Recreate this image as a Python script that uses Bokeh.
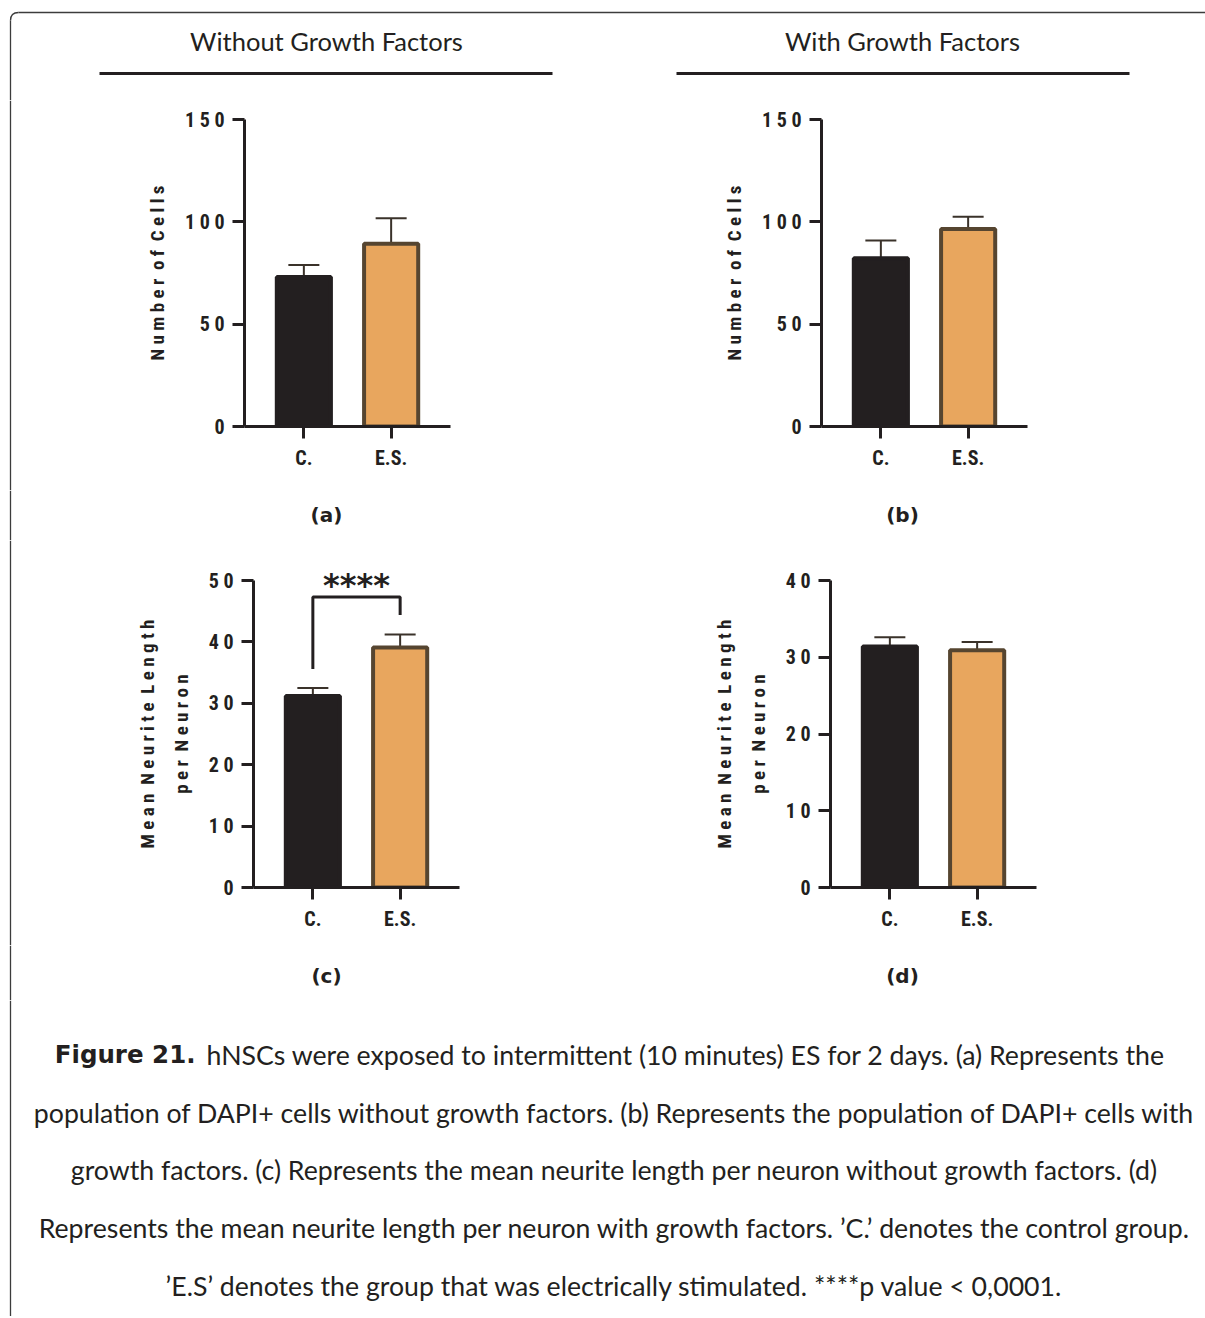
from bokeh.plotting import figure
from bokeh.models import (Range1d, FactorRange, FixedTicker, ColumnDataSource,
                          Whisker, TeeHead)
from bokeh.layouts import column, row
from bokeh.embed import file_html
from bokeh.resources import INLINE
from bokeh.core.properties import value

# ---------------- data ----------------
groups = ["C.", "E.S."]

cells_without = [73.0, 89.3]
cells_without_err = [5.9, 12.5]
cells_with = [82.2, 96.5]
cells_with_err = [8.7, 6.0]
neurite_without = [31.2, 39.1]
neurite_without_err = [1.3, 2.1]
neurite_with = [31.4, 30.9]
neurite_with_err = [1.2, 1.1]

cells_ticks = [0, 50, 100, 150]
neurite_without_ticks = [0, 10, 20, 30, 40, 50]
neurite_with_ticks = [0, 10, 20, 30, 40]

NB = "\u00a0"
cells_label = f"N u m b e r{NB} o f{NB} C e l l s"
neurite_label = (f"M e a n{NB} N e u r i t e{NB} L e n g t h\n"
                 f"p e r{NB} N e u r o n")

section_titles = ["Without Growth Factors", "With Growth Factors"]
panel_letters = ["(a)", "(b)", "(c)", "(d)"]
significance = "****"
bracket_levels = [35.6, 47.3, 47.3, 44.4]

caption_bold = "Figure 21."
caption_first = "hNSCs were exposed to intermittent (10 minutes) ES for 2 days. (a) Represents the"
caption_lines = [
    "population of DAPI+ cells without growth factors. (b) Represents the population of DAPI+ cells with",
    "growth factors. (c) Represents the mean neurite length per neuron without growth factors. (d)",
    "Represents the mean neurite length per neuron with growth factors. \u2019C.\u2019 denotes the control group.",
    "\u2019E.S\u2019 denotes the group that was electrically stimulated. ****p value < 0,0001.",
]

# ---------------- style ----------------
INK = "#231f20"
ORANGE = "#e8a65e"
BROWN = "#564530"
BORDER = "#3c3c3c"
NARROW = "Roboto Condensed, DejaVu Sans Condensed, Roboto"
TEXTFONT = "Lato"

FULL_W = 1205
HEAD_H = 100
ROW1_H = 390
LET1_H = 50
ROW2_H = 405
LET2_H = 55
CAP_H = 316
STRIP_W = 22
BX = 10  # x of the left border line


def blank(width, height):
    p = figure(width=width, height=height, x_range=Range1d(0, width),
               y_range=Range1d(height, 0), x_axis_type=None, y_axis_type=None,
               min_border=0, toolbar_location=None, output_backend="svg",
               outline_line_color=None, background_fill_color="white",
               border_fill_color="white")
    p.frame_align = False
    return p


def left_border(p, y0, y1):
    p.segment(x0=[BX], y0=[y0], x1=[BX], y1=[y1], line_color=BORDER, line_width=1.3)


def panel(width, height, vals, errs, ticks, ylabel, borders, title=None):
    left, right, top, bottom = borders
    p = figure(width=width, height=height,
               x_range=FactorRange(factors=groups, range_padding=0.18,
                                   range_padding_units="absolute"),
               y_range=Range1d(ticks[0], ticks[-1]),
               min_border_left=left, min_border_right=right,
               min_border_top=top, min_border_bottom=bottom,
               toolbar_location=None, output_backend="svg",
               outline_line_color=None, title=title)
    p.frame_align = False
    p.xgrid.visible = False
    p.ygrid.visible = False
    src = ColumnDataSource(dict(cat=groups, val=vals,
                                upper=[v + e for v, e in zip(vals, errs)],
                                fill=[INK, ORANGE], line=[INK, BROWN]))
    w = Whisker(base="cat", upper="upper", lower="val", source=src,
                line_color="#3a322a", line_width=2,
                upper_head=TeeHead(size=31, line_color="#3a322a", line_width=2),
                lower_head=None)
    p.add_layout(w)
    p.vbar(x="cat", top="val", width=0.62, source=src, fill_color="fill",
           line_color="line", line_width=4)

    for ax in (p.xaxis[0], p.yaxis[0]):
        ax.axis_line_width = 3
        ax.axis_line_color = INK
        ax.major_tick_line_width = 3
        ax.major_tick_line_color = INK
        ax.major_tick_out = 12
        ax.major_tick_in = 0
        ax.minor_tick_line_color = None
        ax.major_label_text_font = NARROW
        ax.major_label_text_font_style = "bold"
        ax.major_label_text_font_size = "20px"
        ax.major_label_text_color = INK

    ya = p.yaxis[0]
    ya.ticker = FixedTicker(ticks=ticks)
    ya.major_label_overrides = {t: " ".join(str(t)) for t in ticks}
    ya.major_label_standoff = 8
    ya.axis_label = ylabel
    ya.axis_label_text_font = NARROW
    ya.axis_label_text_font_style = "bold"
    ya.axis_label_text_font_size = "19px"
    ya.axis_label_text_color = INK
    ya.axis_label_standoff = 13
    ya.axis_label_text_line_height = 1.48

    xa = p.xaxis[0]
    xa.major_label_standoff = 7
    return p


# header
head = blank(FULL_W, HEAD_H)
r = 8
head.quadratic(x0=[BX], y0=[12 + r], x1=[BX + r], y1=[12], cx=[BX], cy=[12],
               line_color=BORDER, line_width=1.3)
head.segment(x0=[BX + r], y0=[12], x1=[FULL_W], y1=[12],
             line_color=BORDER, line_width=1.3)
left_border(head, 12 + r, HEAD_H)
head.segment(x0=[99, 676], y0=[73, 73], x1=[552, 1129], y1=[73, 73],
             line_color=INK, line_width=3)
head.text(x=[326, 902], y=[40, 40], text=section_titles, text_align="center",
          text_baseline="middle", text_font=value(TEXTFONT), text_font_size="25.5px",
          text_color=INK)


def strip(height):
    s = blank(STRIP_W, height)
    left_border(s, 0, height)
    return s


def letters_row(height, texts, y):
    f = blank(FULL_W, height)
    left_border(f, 0, height)
    f.text(x=[326, 902], y=[y, y], text=texts, text_align="center",
           text_baseline="middle", text_font=value("DejaVu Sans"),
           text_font_style="bold", text_font_size="20px", text_color=INK)
    return f


# panels
pa = panel(577, ROW1_H, cells_without, cells_without_err, cells_ticks,
           cells_label, (222, 149, 19, 64))
pb = panel(606, ROW1_H, cells_with, cells_with_err, cells_ticks,
           cells_label, (222, 178, 19, 64))
pc = panel(577, ROW2_H, neurite_without, neurite_without_err, neurite_without_ticks,
           neurite_label, (231, 140, 40, 58), title=significance)
pd = panel(606, ROW2_H, neurite_with, neurite_with_err, neurite_with_ticks,
           neurite_label, (231, 169, 40, 58))

# significance bracket and stars on panel (c)
pc.line(x=[groups[0], groups[0], groups[1], groups[1]], y=bracket_levels,
        line_color=INK, line_width=3)
pc.title.align = "center"
pc.title.vertical_align = "bottom"
pc.title.standoff = -47
pc.title.text_font = "DejaVu Sans"
pc.title.text_font_style = "bold"
pc.title.text_font_size = "32px"
pc.title.text_color = INK

let1 = letters_row(LET1_H, panel_letters[:2], 24)
let2 = letters_row(LET2_H, panel_letters[2:], 30)

# caption
cap = blank(FULL_W, CAP_H)
left_border(cap, 0, CAP_H)
cap.text(x=[195], y=[54], text=[caption_bold], text_align="right",
         text_baseline="middle", text_font=value("DejaVu Sans"), text_font_style="bold",
         text_font_size="24.5px", text_color=INK)
cap.text(x=[206], y=[54], text=[caption_first], text_align="left",
         text_baseline="middle", text_font=value(TEXTFONT), text_font_size="26.7px",
         text_color=INK)
cap.text(x=[614] * len(caption_lines), y=[112, 169, 227, 285], text=caption_lines,
         text_align="center", text_baseline="middle", text_font=value(TEXTFONT),
         text_font_size="26.7px", text_color=INK)

layout = column(head,
                row(strip(ROW1_H), pa, pb, spacing=0),
                let1,
                row(strip(ROW2_H), pc, pd, spacing=0),
                let2,
                cap, spacing=0)

open("out.html", "w").write(file_html(layout, INLINE))
